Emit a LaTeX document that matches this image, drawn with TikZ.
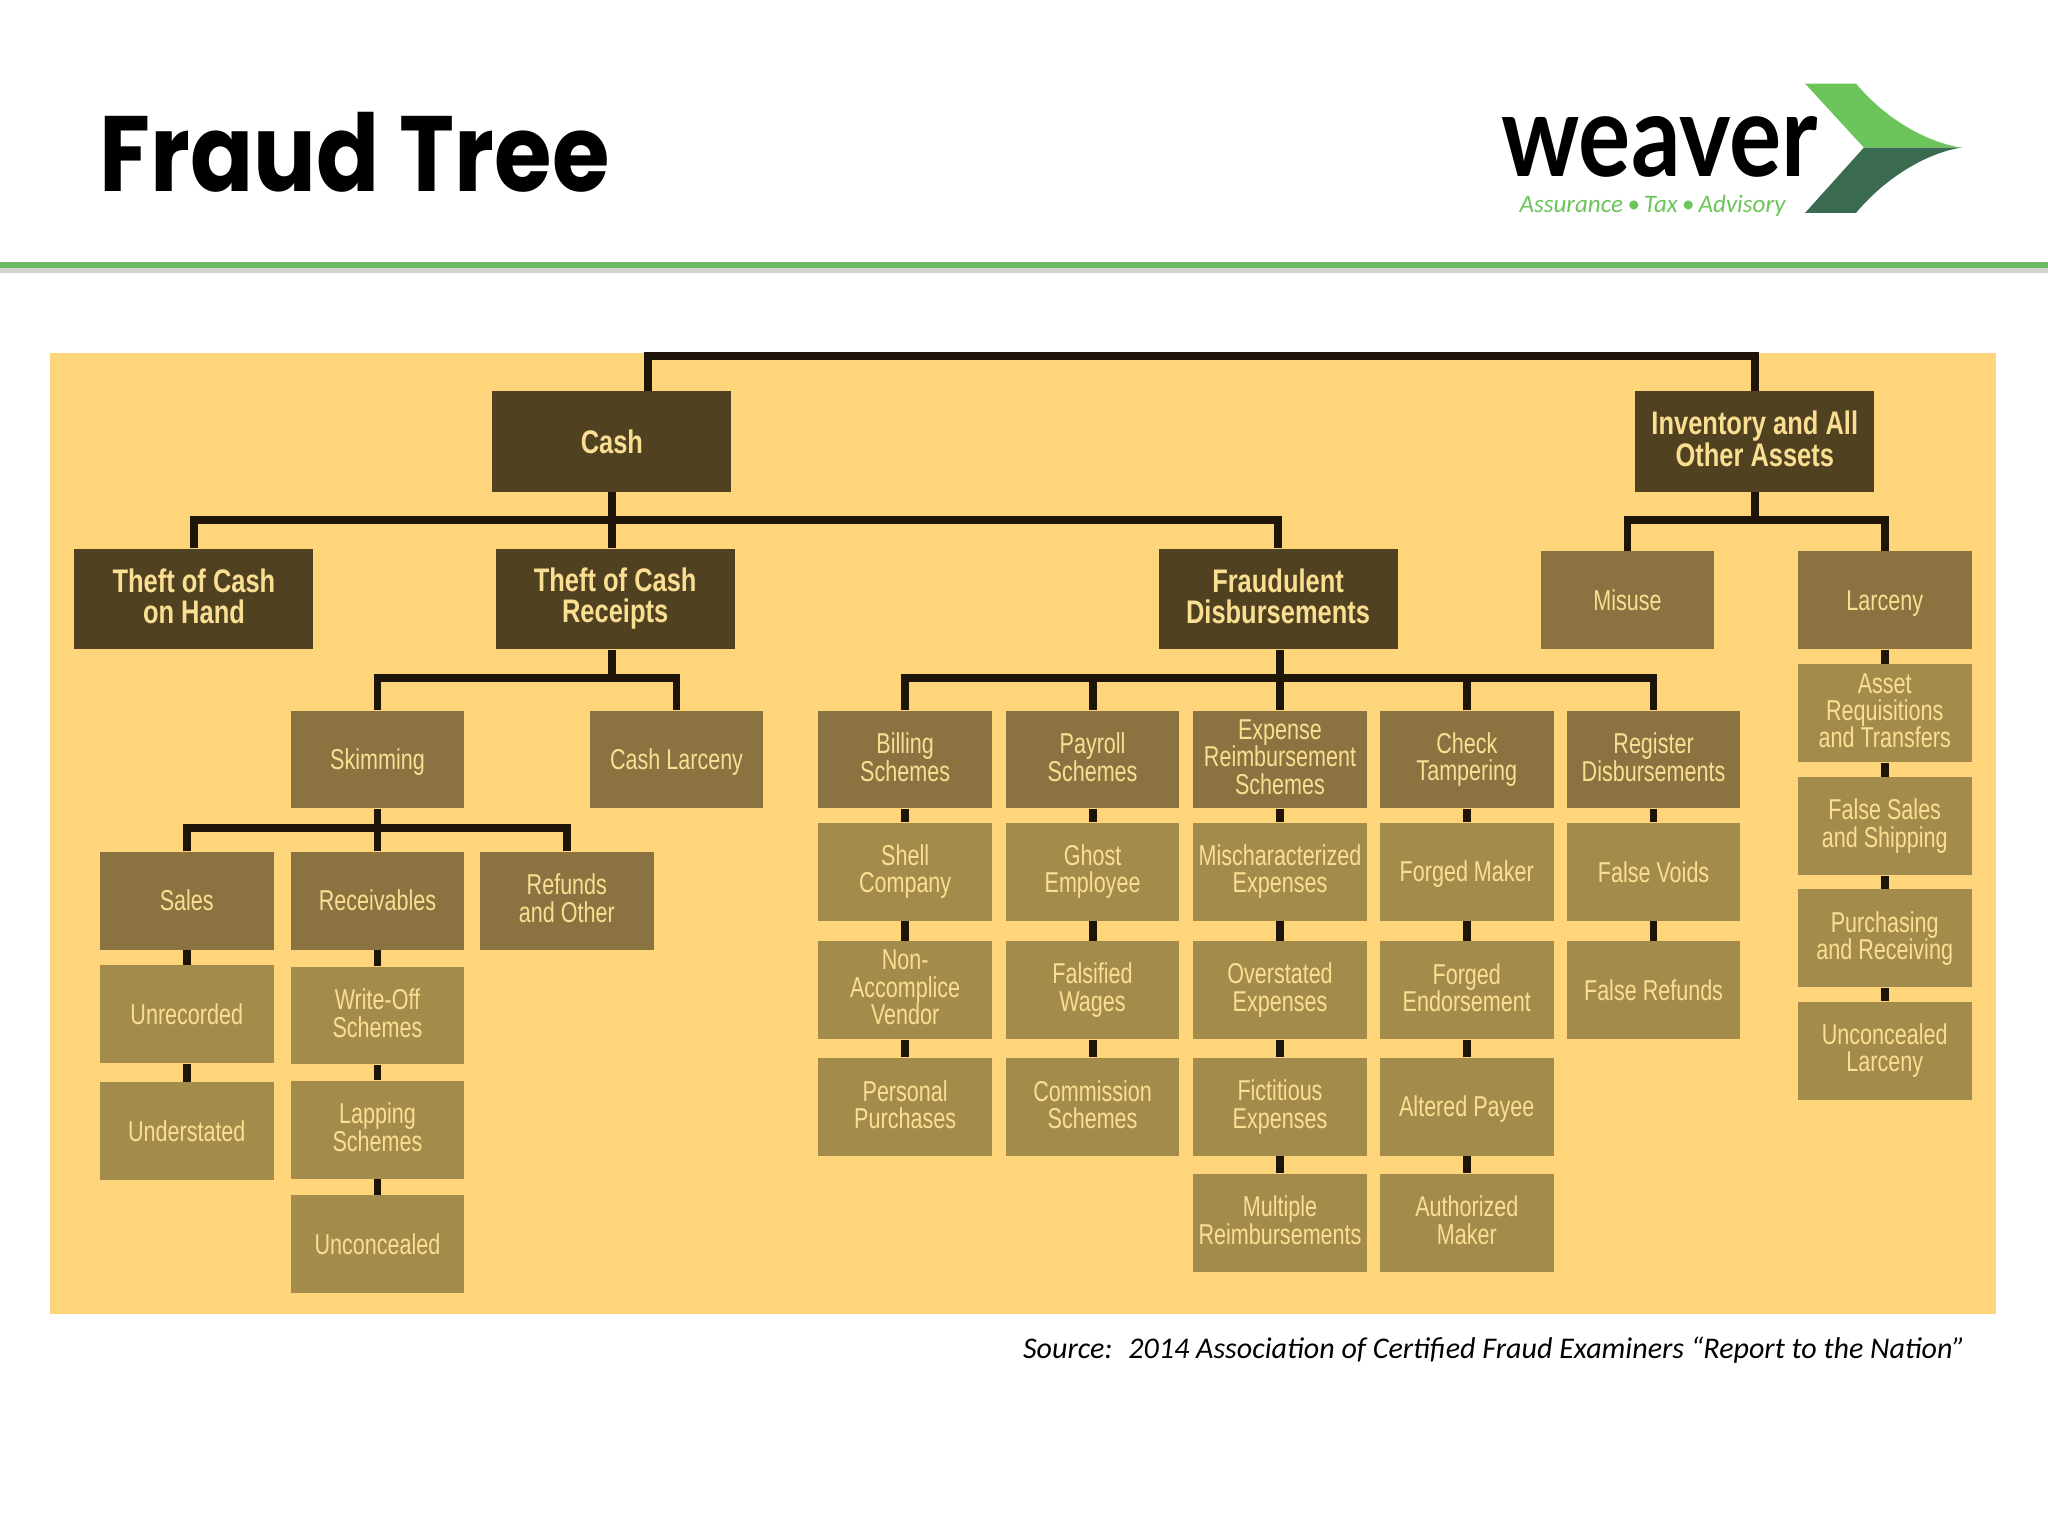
\documentclass[tikz,border=0pt]{standalone}
\usepackage{fontspec}
\setmainfont{Carlito}
\newfontfamily\boxfont[FakeStretch=0.75]{Liberation Sans}
\newfontfamily\headfont[FakeStretch=0.78]{Liberation Sans}
\newfontfamily\titlefont[FakeStretch=0.87]{Poppins}
\newfontfamily\logofont[FakeStretch=0.85]{Lato}
\newcommand\boxstrut{\rule[-0.18em]{0pt}{1.08em}}
\definecolor{frpanel}{RGB}{254,213,122}
\definecolor{frdark}{RGB}{80,65,32}
\definecolor{frmid}{RGB}{138,115,64}
\definecolor{frleaf}{RGB}{163,139,75}
\definecolor{frtext}{RGB}{250,222,146}
\definecolor{frwire}{RGB}{30,20,8}
\definecolor{wvlight}{RGB}{108,197,90}
\definecolor{wvdark}{RGB}{58,107,80}
\definecolor{wvrule}{RGB}{107,187,98}
\definecolor{wvshade}{RGB}{214,210,210}
\usetikzlibrary{arrows.meta,positioning}
\tikzset{
  topbox/.style={fill=frdark,text=frtext,minimum width=91.5pt,minimum height=38.5pt,inner sep=0pt,
        align=center,font=\headfont\bfseries\fontsize{12.5}{12}\selectfont,
        execute at begin node=\boxstrut,execute at end node=\boxstrut},
  midbox/.style={fill=frmid,text=frtext,minimum width=66.5pt,minimum height=37.5pt,inner sep=0pt,
        align=center,font=\boxfont\fontsize{11}{10.5}\selectfont,
        execute at begin node=\boxstrut,execute at end node=\boxstrut},
  leafbox/.style={midbox,fill=frleaf},
  wire/.style={draw=frwire,line width=3pt}
}
\begin{document}
\begin{tikzpicture}[x=0.5pt,y=-0.5pt]
  \useasboundingbox (0,0) rectangle (1568,1176);
  \fill[white] (0,0) rectangle (1568,1176);

  % heading
  \node[anchor=base west,inner sep=0pt,font=\titlefont\bfseries\fontsize{41}{41}\selectfont] (title) at (76,147) {Fraud Tree};
  \node[anchor=base west,inner sep=0pt,text depth=0pt,font=\logofont\bfseries\fontsize{44}{44}\selectfont] (logo) at (1149,135) {weaver};
  \node[anchor=base west,inner sep=0pt,text height=7pt,text=wvlight,font=\itshape\fontsize{9.6}{9.6}\selectfont] (tag) at (1163,163) {Assurance\,•\,Tax\,•\,Advisory};
  \fill[wvlight] (1382,64) -- (1421,64) .. controls (1447,95) and (1480,110) .. (1502,113) -- (1427,113) -- cycle;
  \fill[wvdark] (1382,163) -- (1421,163) .. controls (1447,132) and (1480,116) .. (1502,113) -- (1427,113) -- cycle;
  \fill[wvshade] (0,205) rectangle (1568,209);
  \fill[wvrule] (0,200.5) rectangle (1568,205);

  % panel
  \fill[frpanel] (38,270) rectangle (1528,1006);

  % top level
  \node[topbox] (cash) at (468.5,338) {Cash};
  \node[topbox] (inv) at (1343.5,338) {Inventory and All\\Other Assets};
  \node[topbox] (hand) at (148.5,458.5) {Theft of Cash\\on Hand};
  \node[topbox] (receipts) at (471,458.5) {Theft of Cash\\Receipts};
  \node[topbox] (fraud) at (978.5,458.5) {Fraudulent\\Disbursements};
  \node[midbox] (misuse) at (1246,459.5) {Misuse};
  \node[midbox] (larceny) at (1443,459.5) {Larceny};

  % cash side
  \node[midbox] (skim) at (289,581.5) {Skimming};
  \node[midbox] (cashlarc) at (518,581.5) {Cash Larceny};
  \node[midbox] (sales) at (143,689.5) {Sales};
  \node[midbox] (recv) at (289,689.5) {Receivables};
  \node[midbox] (refunds) at (434,689.5) {Refunds\\and Other};
  \node[leafbox] (unrec) at (143,776.5) {Unrecorded};
  \node[leafbox] (under) at (143,866) {Understated};
  \node[leafbox] (writeoff) at (289,777.5) {Write-Off\\Schemes};
  \node[leafbox] (lapping) at (289,865) {Lapping\\Schemes};
  \node[leafbox] (unconc) at (289,952.5) {Unconcealed};

  % disbursements
  \node[midbox] (billing) at (693,581.5) {Billing\\Schemes};
  \node[midbox] (payroll) at (836.5,581.5) {Payroll\\Schemes};
  \node[midbox] (expense) at (980,581.5) {Expense\\Reimbursement\\Schemes};
  \node[midbox] (check) at (1123,581.5) {Check\\Tampering};
  \node[midbox] (register) at (1266,581.5) {Register\\Disbursements};
  \node[leafbox] (shell) at (693,667.5) {Shell\\Company};
  \node[leafbox] (ghost) at (836.5,667.5) {Ghost\\Employee};
  \node[leafbox] (mischar) at (980,667.5) {Mischaracterized\\Expenses};
  \node[leafbox] (maker) at (1123,667.5) {Forged Maker};
  \node[leafbox] (voids) at (1266,667.5) {False Voids};
  \node[leafbox] (vendor) at (693,758) {Non-\\Accomplice\\Vendor};
  \node[leafbox] (wages) at (836.5,758) {Falsified\\Wages};
  \node[leafbox] (overst) at (980,758) {Overstated\\Expenses};
  \node[leafbox] (endorse) at (1123,758) {Forged\\Endorsement};
  \node[leafbox] (refund) at (1266,758) {False Refunds};
  \node[leafbox] (personal) at (693,847.5) {Personal\\Purchases};
  \node[leafbox] (commis) at (836.5,847.5) {Commission\\Schemes};
  \node[leafbox] (fict) at (980,847.5) {Fictitious\\Expenses};
  \node[leafbox] (payee) at (1123,847.5) {Altered Payee};
  \node[leafbox] (multi) at (980,936) {Multiple\\Reimbursements};
  \node[leafbox] (author) at (1123,936) {Authorized\\Maker};

  % inventory side
  \node[leafbox] (asset) at (1443,546) {Asset\\Requisitions\\and Transfers};
  \node[leafbox] (ship) at (1443,632.5) {False Sales\\and Shipping};
  \node[leafbox] (purch) at (1443,718.5) {Purchasing\\and Receiving};
  \node[leafbox] (unlarc) at (1443,804.5) {Unconcealed\\Larceny};

  % buses
  \coordinate (rootbus) at (900,272.5);
  \coordinate (cashbus) at (468.5,398);
  \coordinate (invbus) at (1343.5,398);
  \coordinate (recbus) at (468.5,519);
  \coordinate (disbus) at (980,519);
  \coordinate (skimbus) at (289,634);

  \draw[wire] ([xshift=13.75pt]cash.north) |- (rootbus) -| (inv.north);
  \draw[wire] (hand.north) |- (cashbus) -| (fraud.north);
  \draw[wire] (cash.south) -- (cash.south |- receipts.north);
  \draw[wire] (misuse.north) |- (invbus) -| (larceny.north);
  \draw[wire] (inv.south) -- (invbus);
  \draw[wire] (skim.north) |- (recbus) -| (cashlarc.north);
  \draw[wire] (recbus) -- (recbus |- receipts.south);
  \draw[wire] (billing.north) |- (disbus) -| (register.north);
  \draw[wire] (disbus) -- (disbus |- fraud.south);
  \draw[wire] (payroll.north) -- (payroll.north |- disbus);
  \draw[wire] (expense.north) -- (disbus);
  \draw[wire] (check.north) -- (check.north |- disbus);
  \draw[wire] (sales.north) |- (skimbus) -| (refunds.north);
  \draw[wire] (skim.south) -- (recv.north);
  \foreach \a/\b in {sales/unrec,unrec/under,recv/writeoff,writeoff/lapping,lapping/unconc,
      billing/shell,shell/vendor,vendor/personal,payroll/ghost,ghost/wages,wages/commis,
      expense/mischar,mischar/overst,overst/fict,fict/multi,
      check/maker,maker/endorse,endorse/payee,payee/author,
      register/voids,voids/refund,
      larceny/asset,asset/ship,ship/purch,purch/unlarc}
    \draw[wire] (\a.south) -- (\b.north);

  \node[anchor=base east,inner sep=0pt,font=\itshape\fontsize{11.5}{11.5}\selectfont] (source) at (1505,1040)
        {Source:~ 2014 Association of Certified Fraud Examiners “Report to the Nation”};
\end{tikzpicture}
\end{document}
